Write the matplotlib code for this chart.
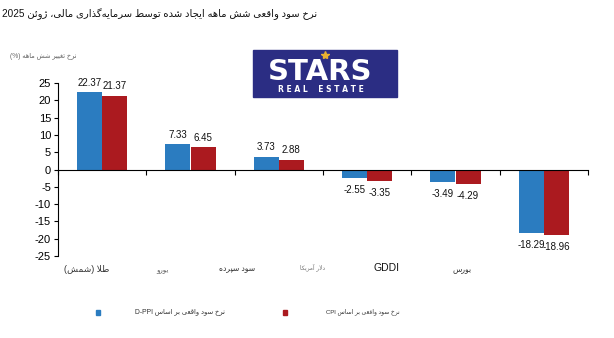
import re

import matplotlib

matplotlib.use("Agg")

import matplotlib.pyplot as plt
import numpy as np
from matplotlib.lines import Line2D
from matplotlib.patches import Rectangle

# data
categories = ["طلا (شمش)", "یورو", "سود سپرده", "دلار آمریکا", "GDDI", "بورس"]
dppi_values = [22.37, 7.33, 3.73, -2.55, -3.49, -18.29]
cpi_values = [21.37, 6.45, 2.88, -3.35, -4.29, -18.96]
y_ticks = [-25, -20, -15, -10, -5, 0, 5, 10, 15, 20, 25]

title = "نرخ سود واقعی شش ماهه ایجاد شده توسط سرمایه\u200cگذاری مالی، ژوئن 2025"
y_label = "نرخ تغییر شش ماهه (%)"
legend_dppi = "نرخ سود واقعی بر اساس D-PPI"
legend_cpi = "نرخ سود واقعی بر اساس CPI"

BLUE = "#2b7cc0"
RED = "#ab1a1f"

# matplotlib has no arabic shaping, so map letters to presentation forms
FORMS = {
    "ا": ("\uFE8D", "\uFE8E"),
    "آ": ("\uFE81", "\uFE82"),
    "ب": ("\uFE8F", "\uFE90", "\uFE91", "\uFE92"),
    "پ": ("\uFB56", "\uFB57", "\uFB58", "\uFB59"),
    "ت": ("\uFE95", "\uFE96", "\uFE97", "\uFE98"),
    "ج": ("\uFE9D", "\uFE9E", "\uFE9F", "\uFEA0"),
    "خ": ("\uFEA5", "\uFEA6", "\uFEA7", "\uFEA8"),
    "د": ("\uFEA9", "\uFEAA"),
    "ذ": ("\uFEAB", "\uFEAC"),
    "ر": ("\uFEAD", "\uFEAE"),
    "ز": ("\uFEAF", "\uFEB0"),
    "ژ": ("\uFB8A", "\uFB8B"),
    "س": ("\uFEB1", "\uFEB2", "\uFEB3", "\uFEB4"),
    "ش": ("\uFEB5", "\uFEB6", "\uFEB7", "\uFEB8"),
    "ط": ("\uFEC1", "\uFEC2", "\uFEC3", "\uFEC4"),
    "ع": ("\uFEC9", "\uFECA", "\uFECB", "\uFECC"),
    "غ": ("\uFECD", "\uFECE", "\uFECF", "\uFED0"),
    "ق": ("\uFED5", "\uFED6", "\uFED7", "\uFED8"),
    "ک": ("\uFB8E", "\uFB8F", "\uFB90", "\uFB91"),
    "گ": ("\uFB92", "\uFB93", "\uFB94", "\uFB95"),
    "ل": ("\uFEDD", "\uFEDE", "\uFEDF", "\uFEE0"),
    "م": ("\uFEE1", "\uFEE2", "\uFEE3", "\uFEE4"),
    "ن": ("\uFEE5", "\uFEE6", "\uFEE7", "\uFEE8"),
    "و": ("\uFEED", "\uFEEE"),
    "ه": ("\uFEE9", "\uFEEA", "\uFEEB", "\uFEEC"),
    "ی": ("\uFBFC", "\uFBFD", "\uFBFE", "\uFBFF"),
    "ئ": ("\uFE89", "\uFE8A", "\uFE8B", "\uFE8C"),
}
LAM_ALEF = {"ا": ("\uFEFB", "\uFEFC"), "آ": ("\uFEF5", "\uFEF6")}
MIRROR = {"(": ")", ")": "("}


def dual(c):
    return c in FORMS and len(FORMS[c]) == 4


def shape(text):
    out = []
    i = 0
    n = len(text)
    while i < n:
        c = text[i]
        if c not in FORMS:
            if c != "\u200c":
                out.append(c)
            i += 1
            continue
        jp = i > 0 and dual(text[i - 1])
        if c == "ل" and i + 1 < n and text[i + 1] in LAM_ALEF:
            lig = LAM_ALEF[text[i + 1]]
            out.append(lig[1] if jp else lig[0])
            i += 2
            continue
        jn = dual(c) and i + 1 < n and text[i + 1] in FORMS
        f = FORMS[c]
        if jp and jn:
            out.append(f[3])
        elif jp:
            out.append(f[1])
        elif jn:
            out.append(f[2])
        else:
            out.append(f[0])
        i += 1
    return "".join(out)


def fa(text):
    s = shape(text)
    runs = re.findall(r"[A-Za-z0-9][A-Za-z0-9\-\.]*|[^A-Za-z0-9]+", s)
    parts = []
    for r in reversed(runs):
        if re.match(r"[A-Za-z0-9]", r):
            parts.append(r)
        else:
            parts.append("".join(MIRROR.get(ch, ch) for ch in reversed(r)))
    return "".join(parts)


FONT = ["Liberation Sans", "DejaVu Sans"]
W, H = 614, 338

fig = plt.figure(figsize=(6.14, 3.38), dpi=100)
fig.patch.set_facecolor("white")
ax = fig.add_axes([58 / W, 1 - 256 / H, 530 / W, 173 / H])

x = np.arange(len(categories))
width = 0.285
bars_d = ax.bar(x - width / 2, dppi_values, width, color=BLUE)
bars_c = ax.bar(x + width / 2, cpi_values, width, color=RED)

for bars, vals in ((bars_d, dppi_values), (bars_c, cpi_values)):
    for bar, v in zip(bars, vals):
        ax.annotate(
            f"{v:.2f}",
            (bar.get_x() + bar.get_width() / 2, v),
            xytext=(0, 3 if v >= 0 else -5),
            textcoords="offset points",
            ha="center",
            va="bottom" if v >= 0 else "top",
            fontsize=7,
            family=FONT,
            color="#111111",
        )

ax.set_xlim(-0.5, len(categories) - 0.5)
ax.set_ylim(-25, 25)
ax.set_yticks(y_ticks)
ax.set_yticklabels([str(t) for t in y_ticks], family=FONT, fontsize=8)
ax.set_xticks(np.arange(len(categories) + 1) - 0.5)
ax.set_xticklabels([])
ax.tick_params(axis="x", direction="out", length=3.5, width=0.8)
ax.tick_params(axis="y", direction="out", length=3, width=0.8, pad=2)
ax.spines["top"].set_visible(False)
ax.spines["right"].set_visible(False)
ax.spines["bottom"].set_position(("data", 0))
ax.spines["left"].set_linewidth(0.8)
ax.spines["bottom"].set_linewidth(0.8)

# category labels sit below the plot, as in the original
cat_pos = [(87, 270, 6.5, "#333333"), (162, 270, 5, "#555555"),
           (237, 270, 5.5, "#333333"), (313, 267, 4.2, "#777777"),
           (387, 268, 7.5, "#111111"), (462, 270, 5.5, "#333333")]
for label, (px, py, fs, col) in zip(categories, cat_pos):
    fig.text(px / W, 1 - py / H, fa(label), ha="center", va="center",
             fontsize=fs, color=col, family=FONT)

fig.text(2 / W, 1 - 14 / H, fa(title), ha="left", va="center",
         fontsize=7.2, color="#111111", family=FONT)
fig.text(10 / W, 1 - 56 / H, fa(y_label), ha="left", va="center",
         fontsize=4.8, color="#666666", family=FONT)

# legend
fig.patches.append(Rectangle((96 / W, 1 - 315 / H), 4 / W, 5 / H,
                             transform=fig.transFigure, color=BLUE))
fig.text(135 / W, 1 - 312 / H, fa(legend_dppi), ha="left", va="center",
         fontsize=4.9, color="#333333", family=FONT)
fig.patches.append(Rectangle((283 / W, 1 - 315 / H), 4 / W, 5 / H,
                             transform=fig.transFigure, color=RED))
fig.text(326 / W, 1 - 312 / H, fa(legend_cpi), ha="left", va="center",
         fontsize=4.3, color="#333333", family=FONT)

# logo
fig.patches.append(Rectangle((253 / W, 1 - 97 / H), 144 / W, 47 / H,
                             transform=fig.transFigure, color="#2b2d83"))
fig.text(320 / W, 1 - 72 / H, "STARS", ha="center", va="center",
         fontsize=21, fontweight="bold", color="white", family="DejaVu Sans")
fig.text(321 / W, 1 - 90 / H, "R E A L    E S T A T E", ha="center",
         va="center", fontsize=5.5, fontweight="bold", color="white",
         family="DejaVu Sans")
fig.add_artist(Line2D([325 / W], [1 - 55 / H], transform=fig.transFigure,
                      marker="*", markersize=6, color="#e8b030"))

fig.savefig("out.png", dpi=100)
plt.close(fig)
